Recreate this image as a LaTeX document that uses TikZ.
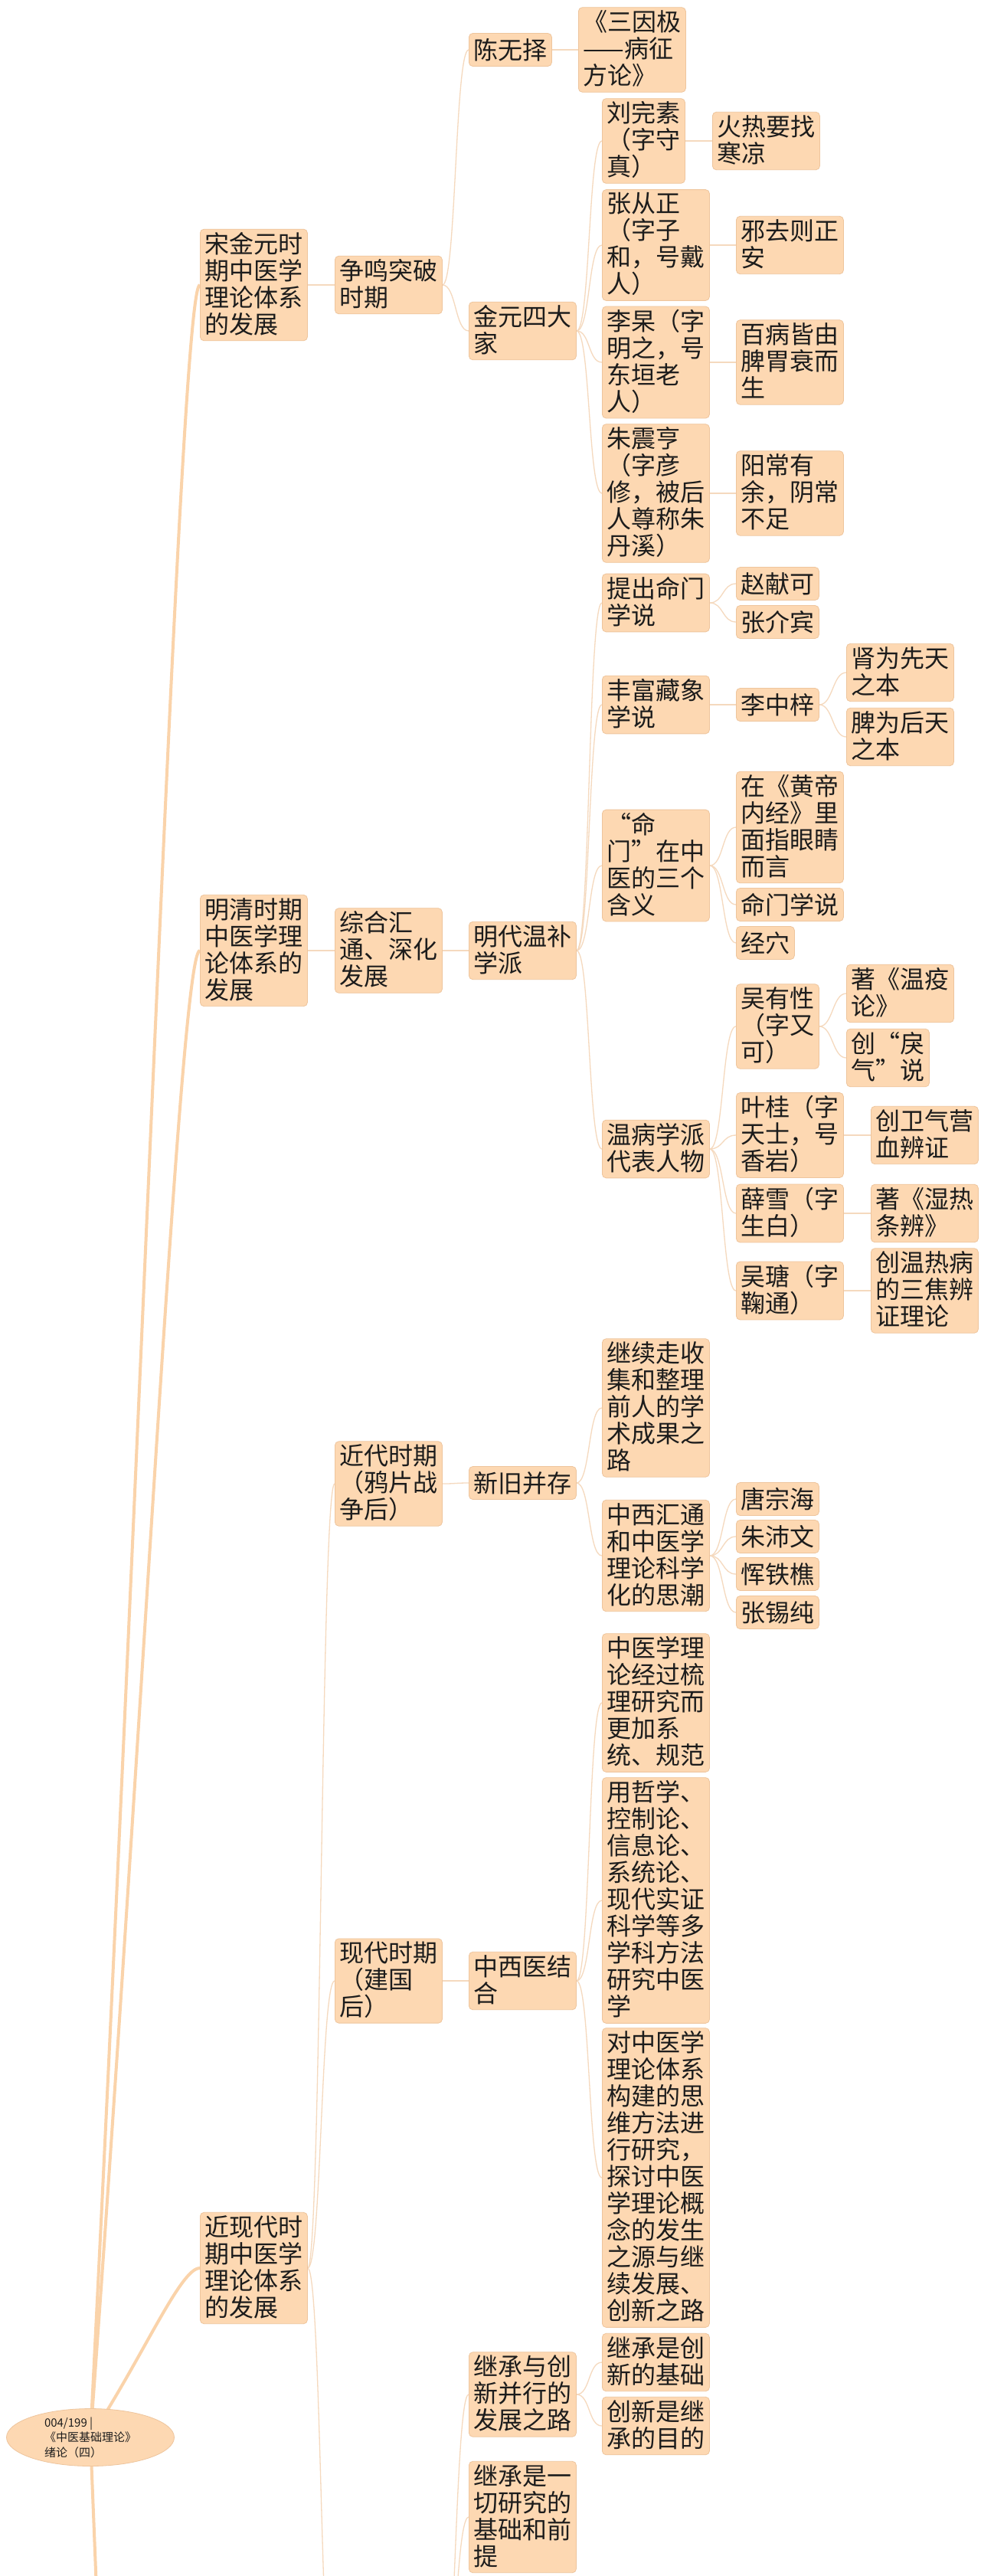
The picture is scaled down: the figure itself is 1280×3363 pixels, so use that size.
\documentclass[tikz,border=0pt]{standalone}
\usepackage{fontspec}
\setmainfont{Noto Sans CJK SC}
\usetikzlibrary{calc,shapes.geometric,backgrounds}
\definecolor{topicfill}{RGB}{253,216,178}
\definecolor{topicedge}{RGB}{238,197,157}
\definecolor{linkcol}{RGB}{245,217,190}
\definecolor{trunkcol}{RGB}{250,211,170}
\definecolor{ink}{RGB}{28,28,28}
\newcommand\linestrut{\rule[-5.5pt]{0pt}{35pt}}

\begin{document}
\begin{tikzpicture}[x=1pt,y=-1pt,
    topic/.style={draw=topicedge,line width=0.8pt,fill=topicfill,rounded corners=5pt,
      anchor=west,align=left,inner xsep=6pt,inner ysep=4pt,text=ink,
      font=\fontsize{32}{35}\selectfont,
      execute at begin node=\linestrut,execute at end node=\linestrut},
    rootnode/.style={ellipse,draw=topicedge,line width=0.8pt,fill=topicfill,
      minimum width=219pt,minimum height=74pt,inner sep=0pt,align=left,text=ink,
      font=\fontsize{15}{19.5}\selectfont},
    linkline/.style={draw=linkcol,line width=1.3pt},
    rootline/.style={draw=trunkcol,line width=4pt}]
  \useasboundingbox (0,0) rectangle (1280,3363);

  \node[rootnode] (root) at (118,3182) {004/199 |\\《中医基础理论》\\绪论（四）};

  % first level
  \node[topic] (songjin) at (261,372) {宋金元时\\期中医学\\理论体系\\的发展};
  \node[topic] (mingqing) at (261,1241) {明清时期\\中医学理\\论体系的\\发展};
  \node[topic] (jinxiandai) at (261,2961) {近现代时\\期中医学\\理论体系\\的发展};

  \node[topic] (zhengming) at (437,372) {争鸣突破\\时期};
  \node[topic] (zonghe) at (437,1241) {综合汇\\通、深化\\发展};
  \node[topic] (jindai) at (437,1937) {近代时期\\（鸦片战\\争后）};
  \node[topic] (xiandai) at (437,2586) {现代时期\\（建国\\后）};

  \node[topic] (chenwuze) at (612,65) {陈无择};
  \node[topic] (jinyuan) at (612,432) {金元四大\\家};
  \node[topic] (wenbu) at (612,1241) {明代温补\\学派};
  \node[topic] (xinjiu) at (612,1936) {新旧并存};
  \node[topic] (zhongxi) at (612,2586) {中西医结\\合};
  \node[topic] (bingxing) at (612,3126) {继承与创\\新并行的\\发展之路};
  \node[topic] (qianti) at (612,3286) {继承是一\\切研究的\\基础和前\\提};

  \node[topic] (sanyin) at (755,65) {《三因极\\——病征\\方论》};
  \node[topic] (liuwansu) at (786,184) {刘完素\\（字守\\真）};
  \node[topic] (zhangcz) at (786,320) {张从正\\（字子\\和，号戴\\人）};
  \node[topic] (ligao) at (786,473) {李杲（字\\明之，号\\东垣老\\人）};
  \node[topic] (zhuzh) at (786,644) {朱震亨\\（字彦\\修，被后\\人尊称朱\\丹溪）};
  \node[topic] (mingmen) at (786,787) {提出命门\\学说};
  \node[topic] (zangxiang) at (786,920) {丰富藏象\\学说};
  \node[topic] (sange) at (786,1130) {“命\\门”在中\\医的三个\\含义};
  \node[topic] (wenbing) at (786,1500) {温病学派\\代表人物};
  \node[topic] (jixu) at (786,1838) {继续走收\\集和整理\\前人的学\\术成果之\\路};
  \node[topic] (huitong) at (786,2031) {中西汇通\\和中医学\\理论科学\\化的思潮};
  \node[topic] (shuli) at (786,2223) {中医学理\\论经过梳\\理研究而\\更加系\\统、规范};
  \node[topic] (zhexue) at (786,2481) {用哲学、\\控制论、\\信息论、\\系统论、\\现代实证\\科学等多\\学科方法\\研究中医\\学};
  \node[topic] (siwei) at (786,2843) {对中医学\\理论体系\\构建的思\\维方法进\\行研究，\\探讨中医\\学理论概\\念的发生\\之源与继\\续发展、\\创新之路};
  \node[topic] (jichu) at (786,3084) {继承是创\\新的基础};
  \node[topic] (mudi) at (786,3167) {创新是继\\承的目的};

  \node[topic] (huore) at (930,184) {火热要找\\寒凉};
  \node[topic] (xiequ) at (961,320) {邪去则正\\安};
  \node[topic] (baibing) at (961,473) {百病皆由\\脾胃衰而\\生};
  \node[topic] (yangchang) at (961,644) {阳常有\\余，阴常\\不足};
  \node[topic] (zhaoxk) at (961,762) {赵献可};
  \node[topic] (zhangjb) at (961,812) {张介宾};
  \node[topic] (lizz) at (961,920) {李中梓};
  \node[topic] (huangdi) at (961,1080) {在《黄帝\\内经》里\\面指眼睛\\而言};
  \node[topic] (mmxs) at (961,1181) {命门学说};
  \node[topic] (jingxue) at (961,1231) {经穴};
  \node[topic] (wuyx) at (961,1340) {吴有性\\（字又\\可）};
  \node[topic] (yegui) at (961,1482) {叶桂（字\\天士，号\\香岩）};
  \node[topic] (xuexue) at (961,1584) {薛雪（字\\生白）};
  \node[topic] (wutang) at (961,1685) {吴瑭（字\\鞠通）};
  \node[topic] (tangzh) at (961,1957) {唐宗海};
  \node[topic] (zhupw) at (961,2006) {朱沛文};
  \node[topic] (yuntq) at (961,2055) {恽铁樵};
  \node[topic] (zhangxc) at (961,2105) {张锡纯};

  \node[topic] (xiantian) at (1105,878) {肾为先天\\之本};
  \node[topic] (houtian) at (1105,962) {脾为后天\\之本};
  \node[topic] (wenyi) at (1105,1297) {著《温疫\\论》};
  \node[topic] (liqi) at (1105,1381) {创“戾\\气”说};
  \node[topic] (weiqi) at (1137,1482) {创卫气营\\血辨证};
  \node[topic] (shire) at (1137,1584) {著《湿热\\条辨》};
  \node[topic] (sanjiao) at (1137,1685) {创温热病\\的三焦辨\\证理论};

  % branches that run on below the page
  \coordinate (lowtopic) at (261,6700);
  \coordinate (lowsub) at (437,3560);
  \coordinate (lowsubend) at (576,3560);

  \begin{pgfonlayer}{background}
    \fill[white] (0,0) rectangle (1280,3363);
    \foreach \b in {songjin.west,mingqing.west,jinxiandai.west,lowtopic}
      \draw[rootline] (root.center) .. controls ($(root.center)!0.5!(\b)$)
        and ($(\b)+(-25,0)$) .. (\b);
    \foreach \a/\b in {songjin/zhengming,zhengming/chenwuze,zhengming/jinyuan,
        chenwuze/sanyin,jinyuan/liuwansu,jinyuan/zhangcz,jinyuan/ligao,jinyuan/zhuzh,
        liuwansu/huore,zhangcz/xiequ,ligao/baibing,zhuzh/yangchang,
        mingqing/zonghe,zonghe/wenbu,wenbu/mingmen,wenbu/zangxiang,wenbu/sange,
        wenbu/wenbing,mingmen/zhaoxk,mingmen/zhangjb,zangxiang/lizz,lizz/xiantian,
        lizz/houtian,sange/huangdi,sange/mmxs,sange/jingxue,wenbing/wuyx,
        wenbing/yegui,wenbing/xuexue,wenbing/wutang,wuyx/wenyi,wuyx/liqi,
        yegui/weiqi,xuexue/shire,wutang/sanjiao,
        jinxiandai/jindai,jinxiandai/xiandai,jindai/xinjiu,xinjiu/jixu,
        xinjiu/huitong,huitong/tangzh,huitong/zhupw,huitong/yuntq,huitong/zhangxc,
        xiandai/zhongxi,zhongxi/shuli,zhongxi/zhexue,zhongxi/siwei,
        bingxing/jichu,bingxing/mudi}
      \draw[linkline] (\a.east) .. controls +(18,0) and +(-18,0) .. (\b.west);
    \draw[linkline] (jinxiandai.east) .. controls +(18,0) and +(-18,0) .. (lowsub);
    \foreach \b in {bingxing,qianti}
      \draw[linkline] (lowsubend) .. controls +(18,0) and +(-18,0) .. (\b.west);
  \end{pgfonlayer}
\end{tikzpicture}
\end{document}
